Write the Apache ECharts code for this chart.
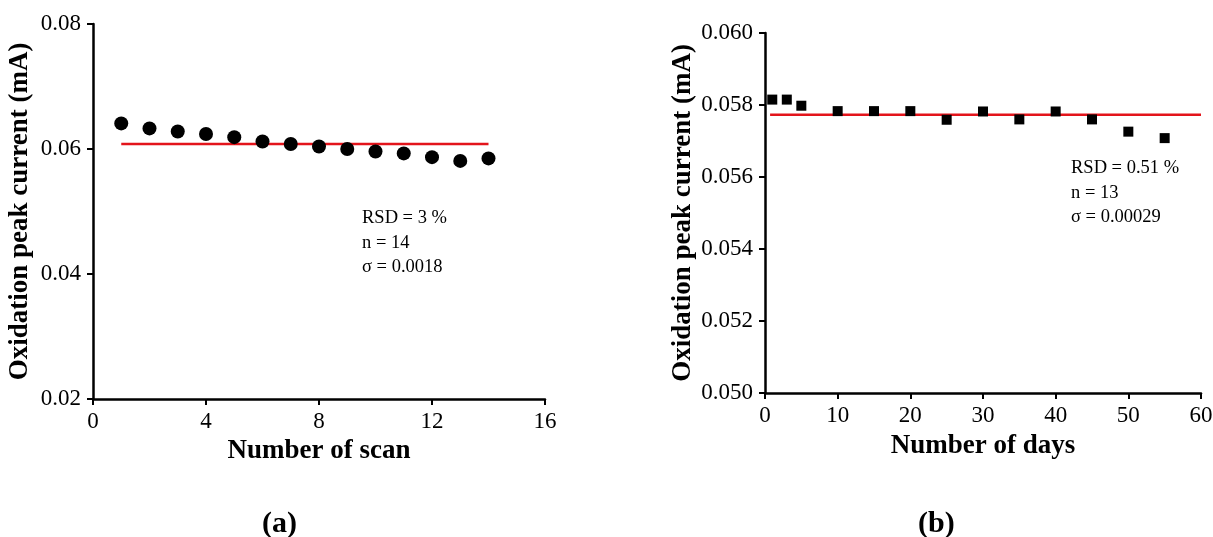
<!DOCTYPE html>
<html lang="en">
<head>
    <meta charset="UTF-8">
    <title>Oxidation peak current stability</title>
    <style>
        html, body { margin: 0; padding: 0; background: #fff; }
    </style>
</head>
<body>
<div id="main" style="width:1213px;height:537px;"></div>
<script src="https://cdn.jsdelivr.net/npm/echarts@6/dist/echarts.min.js"></script>
<script>
    // (a) repeated scans
    var scanNo = [1, 2, 3, 4, 5, 6, 7, 8, 9, 10, 11, 12, 13, 14];
    var scanCurrent = [0.0641, 0.0633, 0.0628, 0.0624, 0.0619, 0.0612, 0.0608,
                       0.0604, 0.0600, 0.0596, 0.0593, 0.0587, 0.0581, 0.0585];
    var scanMeanX = [1, 14];
    var scanMean = 0.0608;
    var scanNotes = ['RSD = 3 %', 'n = 14', 'σ = 0.0018'];

    // (b) storage days
    var dayNo = [1, 3, 5, 10, 15, 20, 25, 30, 35, 40, 45, 50, 55];
    var dayCurrent = [0.05815, 0.05815, 0.05798, 0.05783, 0.05783, 0.05783, 0.05759,
                      0.05782, 0.05760, 0.05782, 0.05760, 0.05726, 0.05708];
    var dayMeanX = [0.7, 60];
    var dayMean = 0.05773;
    var dayNotes = ['RSD = 0.51 %', 'n = 13', 'σ = 0.00029'];

    var serif = 'Liberation Serif';
    var black = '#000';
    var red = '#e3141b';

    function xAxisOf(idx, name, max, interval, gap) {
        return {
            gridIndex: idx,
            type: 'value',
            min: 0,
            max: max,
            interval: interval,
            name: name,
            nameLocation: 'middle',
            nameGap: gap,
            nameTextStyle: { fontFamily: serif, fontWeight: 'bold', fontSize: 27, color: black },
            axisLine: { show: true, onZero: false, lineStyle: { color: black, width: 2.5 } },
            axisTick: { show: true, length: 6, lineStyle: { color: black, width: 2 } },
            axisLabel: { fontFamily: serif, fontSize: 23, color: black, margin: 11 },
            splitLine: { show: false }
        };
    }

    function yAxisOf(idx, min, max, interval, digits, gap) {
        return {
            gridIndex: idx,
            type: 'value',
            min: min,
            max: max,
            interval: interval,
            name: 'Oxidation peak current (mA)',
            nameLocation: 'middle',
            nameGap: gap,
            nameTextStyle: { fontFamily: serif, fontWeight: 'bold', fontSize: 27, color: black },
            axisLine: { show: true, onZero: false, lineStyle: { color: black, width: 2.5 } },
            axisTick: { show: true, length: 6, lineStyle: { color: black, width: 2 } },
            axisLabel: {
                fontFamily: serif, fontSize: 23, color: black, margin: 12,
                formatter: function (v) { return v.toFixed(digits); }
            },
            splitLine: { show: false }
        };
    }

    function notes(lines, left, top) {
        return lines.map(function (t, i) {
            return {
                type: 'text',
                left: left,
                top: top + i * 24.5,
                style: { text: t, font: '18.5px "Liberation Serif"', fill: black }
            };
        });
    }

    var myChart = echarts.init(document.getElementById('main'));

    var option = {
        backgroundColor: '#fff',
        animation: false,
        grid: [
            { left: 93, top: 24, width: 452, height: 375, containLabel: false, outerBoundsMode: 'none' },
            { left: 765, top: 33, width: 436, height: 360, containLabel: false, outerBoundsMode: 'none' }
        ],
        xAxis: [
            xAxisOf(0, 'Number of scan', 16, 4, 27),
            xAxisOf(1, 'Number of days', 60, 10, 40)
        ],
        yAxis: [
            yAxisOf(0, 0.02, 0.08, 0.02, 2, 59),
            yAxisOf(1, 0.05, 0.06, 0.002, 3, 68)
        ],
        graphic: notes(scanNotes, 362, 209)
            .concat(notes(dayNotes, 1071, 159))
            .concat([
                {
                    type: 'text', left: 262, top: 509,
                    style: { text: '(a)', font: 'bold 30px "Liberation Serif"', fill: black }
                },
                {
                    type: 'text', left: 918, top: 509,
                    style: { text: '(b)', font: 'bold 30px "Liberation Serif"', fill: black }
                }
            ]),
        series: [
            {
                type: 'line',
                xAxisIndex: 0,
                yAxisIndex: 0,
                showSymbol: false,
                silent: true,
                lineStyle: { color: red, width: 2.5 },
                data: scanMeanX.map(function (x) { return [x, scanMean]; }),
                z: 2
            },
            {
                type: 'scatter',
                xAxisIndex: 0,
                yAxisIndex: 0,
                symbol: 'circle',
                symbolSize: 14,
                itemStyle: { color: black, opacity: 1 },
                data: scanNo.map(function (x, i) { return [x, scanCurrent[i]]; }),
                z: 3
            },
            {
                type: 'line',
                xAxisIndex: 1,
                yAxisIndex: 1,
                showSymbol: false,
                silent: true,
                lineStyle: { color: red, width: 2.5 },
                data: dayMeanX.map(function (x) { return [x, dayMean]; }),
                z: 2
            },
            {
                type: 'scatter',
                xAxisIndex: 1,
                yAxisIndex: 1,
                symbol: 'rect',
                symbolSize: 10,
                itemStyle: { color: black, opacity: 1 },
                data: dayNo.map(function (x, i) { return [x, dayCurrent[i]]; }),
                z: 3
            }
        ]
    };
    myChart.setOption(option);
</script>
</body>
</html>
